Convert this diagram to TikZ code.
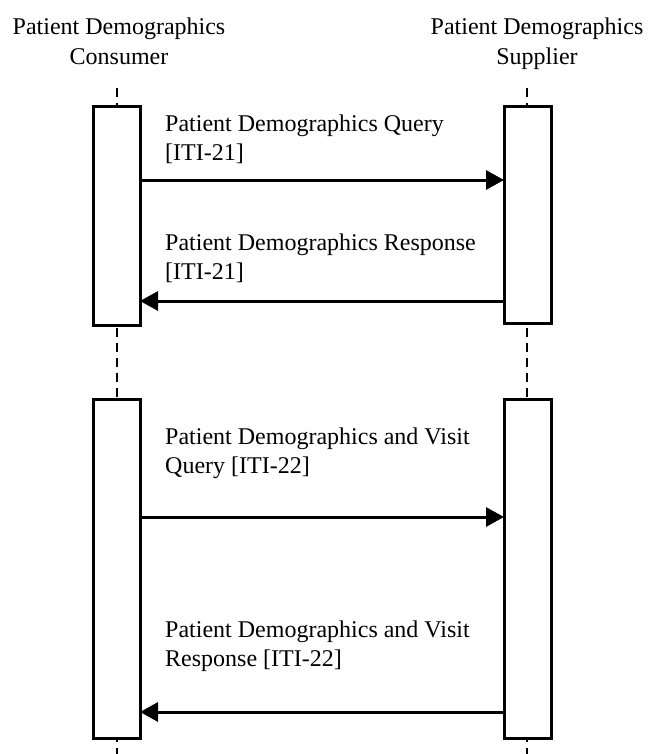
\documentclass[tikz,border=0pt]{standalone}
\usepackage{fontspec}
\setmainfont{Liberation Serif}
\usetikzlibrary{arrows.meta}
\begin{document}
\begin{tikzpicture}[x=1pt,y=-1pt,
  lifeline/.style={line width=1.5pt,dash pattern=on 9pt off 6pt},
  actbox/.style={draw,line width=3pt,fill=white},
  msg/.style={line width=3pt,-{Triangle[length=18pt,width=19pt]}},
  msglabel/.style={anchor=north west,inner sep=0pt,align=left,
    font=\fontsize{24}{29}\selectfont},
  actor/.style={anchor=north,inner sep=0pt,align=center,
    font=\fontsize{24}{30}\selectfont}]
\useasboundingbox (0,0) rectangle (648,754);

% participant titles
\node[actor] (tc) at (119,18) {Patient Demographics\\Consumer};
\node[actor] (ts) at (537,18) {Patient Demographics\\Supplier};

% lifeline end points
\coordinate (c0) at (117,88);
\coordinate (s0) at (527,88);
\coordinate (c9) at (117,754);
\coordinate (s9) at (527,754);

% lifelines (drawn first, boxes cover them)
\draw[lifeline] (c0) -- (c9);
\draw[lifeline] (s0) -- (s9);

% activation boxes
\draw[actbox] (93,107) rectangle (140,325);
\draw[actbox] (504,107) rectangle (551,323);
\draw[actbox] (93,399) rectangle (140,738);
\draw[actbox] (504,399) rectangle (551,738);

% message anchor points on box edges
\coordinate (q1c) at (140,180);  \coordinate (q1s) at (504,180);
\coordinate (r1c) at (140,301);  \coordinate (r1s) at (504,301);
\coordinate (q2c) at (140,517);  \coordinate (q2s) at (504,517);
\coordinate (r2c) at (140,712);  \coordinate (r2s) at (504,712);

% messages
\draw[msg] (q1c) -- (q1s);
\draw[msg] (r1s) -- (r1c);
\draw[msg] (q2c) -- (q2s);
\draw[msg] (r2s) -- (r2c);

% message labels
\node[msglabel] (l1) at (165,115) {Patient Demographics Query\\{[ITI-21]}};
\node[msglabel] (l2) at (165,234) {Patient Demographics Response\\{[ITI-21]}};
\node[msglabel] (l3) at (165,428) {Patient Demographics and Visit\\Query [ITI-22]};
\node[msglabel] (l4) at (165,621) {Patient Demographics and Visit\\Response [ITI-22]};
\end{tikzpicture}
\end{document}
